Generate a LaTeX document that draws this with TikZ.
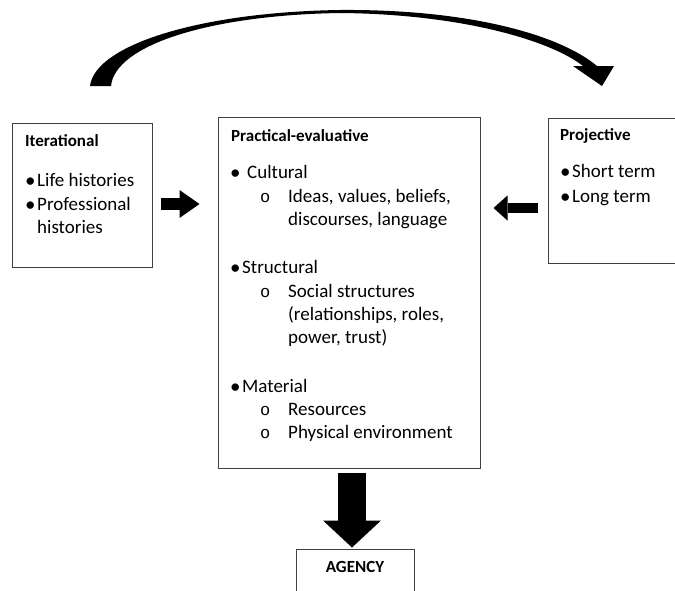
\documentclass[tikz,border=0pt]{standalone}
\usepackage{fontspec}
\setmainfont{Carlito}
\newfontfamily\ringfont{Liberation Mono}
\usetikzlibrary{arrows.meta}
\usetikzlibrary{positioning}

\begin{document}
\begin{tikzpicture}[
    x=1pt, y=-1pt,
    every node/.style={inner sep=0pt, font=\fontsize{19}{23}\selectfont},
    box/.style={draw=black!75, line width=1pt, rectangle},
    head/.style={anchor=base west, font=\fontsize{17}{20}\selectfont\bfseries},
    txt/.style={anchor=base west},
    bul/.style={anchor=base west, font=\fontsize{21}{21}\selectfont, yshift=-1.5pt},
    ring/.style={anchor=base west, font=\fontsize{17}{20}\ringfont},
    fat/.style={draw=black, line width=#1}
]
\useasboundingbox (0,0) rectangle (675,590);
\clip (0,0) rectangle (675,590);
% Boxes
\node[box, minimum width=140, minimum height=144] (iter) at (82,195) {};
\node[box, minimum width=262, minimum height=351] (prac) at (349,292.5) {};
\node[box, minimum width=160, minimum height=145] (proj) at (628,190.5) {};
\node[box, minimum width=118, minimum height=70] (agency) at (355,584) {};
% Iterational
\node[head] (itert) at (25,146) {Iterational};
\node[bul] (ib1) at (25,186) {•};
\node[txt] (it1) at (37,186) {Life histories};
\node[bul] (ib2) at (25,210) {•};
\node[txt] (it2) at (37,210) {Professional};
\node[txt] (it3) at (37,233) {histories};
% Practical-evaluative
\node[head] (pract) at (231,141) {Practical-evaluative};
\node[bul] (pb1) at (230,178) {•};
\node[txt] (pt1) at (247,178) {Cultural};
\node[ring] (pr1) at (260,202) {o};
\node[txt] (pt2) at (288,202) {Ideas, values, beliefs,};
\node[txt] (pt3) at (288,225) {discourses, language};
\node[bul] (pb2) at (230,273) {•};
\node[txt] (pt4) at (242,273) {Structural};
\node[ring] (pr2) at (260,297) {o};
\node[txt] (pt5) at (288,297) {Social structures};
\node[txt] (pt6) at (288,320) {(relationships, roles,};
\node[txt] (pt7) at (288,343) {power, trust)};
\node[bul] (pb3) at (230,392) {•};
\node[txt] (pt8) at (242,392) {Material};
\node[ring] (pr3) at (260,415) {o};
\node[txt] (pt9) at (288,415) {Resources};
\node[ring] (pr4) at (260,438) {o};
\node[txt] (pt10) at (288,438) {Physical environment};
% Projective
\node[head] (projt) at (560,140) {Projective};
\node[bul] (qb1) at (560,177) {•};
\node[txt] (qt1) at (572,177) {Short term};
\node[bul] (qb2) at (560,202) {•};
\node[txt] (qt2) at (572,202) {Long term};
% Agency
\node[font=\fontsize{17}{20}\selectfont\bfseries, anchor=base] (agt) at (355,572) {AGENCY};
% Arrows
\coordinate (ra) at ([yshift=-9]iter.east);
\coordinate (la) at ([yshift=-17.5]proj.west);
\draw[fat=12, -{Triangle[length=20pt, width=28pt, line width=0pt]}, shorten <=8, shorten >=18]
    (ra) -- (ra -| prac.west);
\draw[fat=10, -{Triangle[length=14pt, width=25pt, line width=0pt]}, shorten <=10, shorten >=13]
    (la) -- (la -| prac.east);
\draw[fat=28, -{Triangle[length=27pt, width=58pt, line width=0pt]}, shorten <=4, shorten >=1]
    ([xshift=3]prac.south) -- ([xshift=-3]agency.north);
% Curved arrow
\fill (90,86) .. controls (95,45) and (200,12) .. (340,10)
    .. controls (470,9) and (560,35) .. (597,66)
    -- (614,66) -- (602,86) -- (573,66) -- (583,66)
    .. controls (550,40) and (460,14) .. (340,13)
    .. controls (210,15) and (115,45) .. (111,86) -- cycle;
\end{tikzpicture}
\end{document}
